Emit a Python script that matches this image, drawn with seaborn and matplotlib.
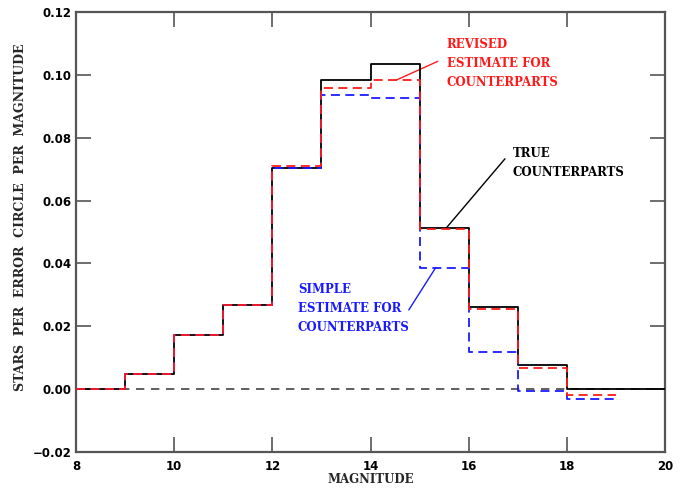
import matplotlib
matplotlib.use("Agg")
import matplotlib.pyplot as plt
import seaborn as sns
import pandas as pd

# Data: magnitude bin edges and step values (stars per error circle per magnitude)
edges_true = [8, 9, 10, 11, 12, 13, 14, 15, 16, 17, 18, 19, 20]
true_vals = [0.0, 0.0048, 0.0172, 0.0269, 0.0704, 0.0985, 0.1033, 0.0514, 0.0262, 0.0077, 0.0, 0.0]

edges_est = [8, 9, 10, 11, 12, 13, 14, 15, 16, 17, 18, 19]
revised_vals = [0.0, 0.0048, 0.0172, 0.0269, 0.0711, 0.0958, 0.0983, 0.0509, 0.0254, 0.0068, -0.0019]
simple_vals = [0.0, 0.0048, 0.0172, 0.0269, 0.0704, 0.0935, 0.0925, 0.0387, 0.0117, -0.0006, -0.0030]

xticks = [8, 10, 12, 14, 16, 18, 20]
yticks = [-0.02, 0.00, 0.02, 0.04, 0.06, 0.08, 0.10, 0.12]

sns.set_style("ticks")
plt.rcParams["font.family"] = ["DejaVu Serif"]
plt.rcParams["font.weight"] = "bold"

fig = plt.figure(figsize=(6.99, 4.90), dpi=100)
ax = fig.add_axes([76 / 699, 1 - 452 / 490, (665 - 76) / 699, (452 - 12) / 490])


def step_df(edges, vals):
    return pd.DataFrame({"x": edges, "y": list(vals) + [vals[-1]]})


ax.axhline(0, color="#444444", lw=1.2, ls=(0, (5, 4)), zorder=1)

sns.lineplot(data=step_df(edges_true, true_vals), x="x", y="y", ax=ax,
             drawstyle="steps-post", color="black", lw=1.3, zorder=3)
sns.lineplot(data=step_df(edges_est, simple_vals), x="x", y="y", ax=ax,
             drawstyle="steps-post", color="#1a1aff", lw=1.3, ls=(0, (5, 3)), zorder=4)
sns.lineplot(data=step_df(edges_est, revised_vals), x="x", y="y", ax=ax,
             drawstyle="steps-post", color="#ff1a1a", lw=1.3, ls=(0, (5, 3)), zorder=5)

ax.set_xlim(8, 20)
ax.set_ylim(-0.02, 0.12)
ax.set_xticks(xticks)
ax.set_yticks(yticks)
ax.set_xticklabels([str(t) for t in xticks])
ax.set_yticklabels([f"{t:.2f}".replace("-", "\u2212") for t in yticks])
for lab in ax.get_xticklabels() + ax.get_yticklabels():
    lab.set_fontfamily("DejaVu Sans")
    lab.set_fontweight("bold")

ax.tick_params(direction="in", length=10.5, width=1.2, top=True, right=True,
               labelsize=8.5, colors="#555555", labelcolor="black")
ax.tick_params(axis="x", pad=6)
ax.tick_params(axis="y", pad=3)
for s in ax.spines.values():
    s.set_color("#555555")
    s.set_linewidth(1.6)

ax.set_xlabel("MAGNITUDE", fontsize=8.5, fontweight="bold", labelpad=0)
ax.set_ylabel("STARS  PER  ERROR  CIRCLE  PER  MAGNITUDE", fontsize=9, fontweight="bold")
ax.yaxis.set_label_coords(-0.083, 0.534)

txt_kw = dict(fontsize=8.5, fontweight="bold", linespacing=1.6, va="top", ha="left")

# Revised estimate annotation (red)
ax.text(15.55, 0.1118, "REVISED\nESTIMATE FOR\nCOUNTERPARTS", color="#ff1a1a", **txt_kw)
ax.plot([14.52, 15.37], [0.0983, 0.1043], color="#ff1a1a", lw=1.0)

# True counterparts annotation (black)
ax.text(16.9, 0.0772, "TRUE\nCOUNTERPARTS", color="black", **txt_kw)
ax.plot([15.55, 16.74], [0.0514, 0.0733], color="black", lw=1.0)

# Simple estimate annotation (blue)
ax.text(12.52, 0.0339, "SIMPLE\nESTIMATE FOR\nCOUNTERPARTS", color="#1a1aff", **txt_kw)
ax.plot([14.78, 15.33], [0.0252, 0.0387], color="#1a1aff", lw=1.0)

fig.savefig("out.png", dpi=100)
